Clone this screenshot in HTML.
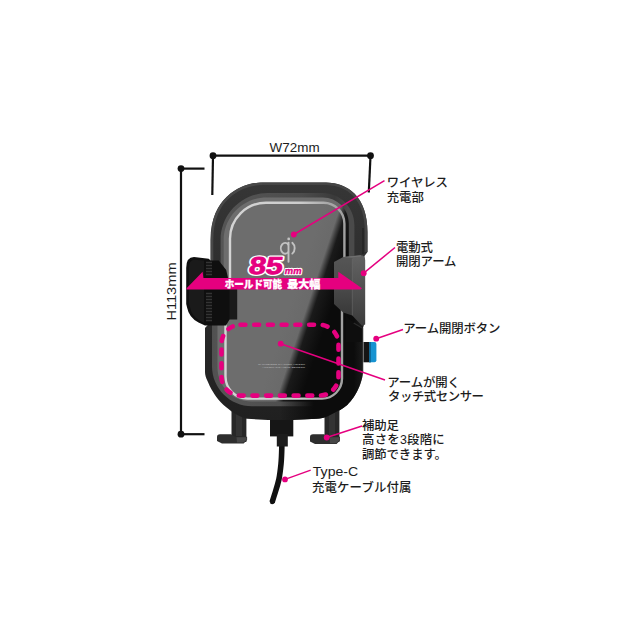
<!DOCTYPE html>
<html lang="ja">
<head>
<meta charset="utf-8">
<title>ワイヤレス充電ホルダー</title>
<style>
html,body{margin:0;padding:0;background:#fff;}
body{width:640px;height:640px;overflow:hidden;position:relative;font-family:"Liberation Sans","Noto Sans CJK JP",sans-serif;}
svg{position:absolute;left:0;top:0;display:block;}
.lbl{font-family:"Liberation Sans","Noto Sans CJK JP",sans-serif;font-size:12.4px;fill:#1c1c1c;font-weight:500;letter-spacing:-0.1px;}
.dim{font-family:"Liberation Sans",sans-serif;font-size:12.6px;fill:#1c1c1c;}
</style>
</head>
<body>
<svg width="640" height="640" viewBox="0 0 640 640">
<defs>
  <!-- glass gradient: perpendicular to the diagonal reflection edge -->
  <linearGradient id="glass" gradientUnits="userSpaceOnUse" x1="297.300" y1="283.700" x2="335.300" y2="296.300">
    <stop offset="0" stop-color="#6d6d6d"/>
    <stop offset="0.41" stop-color="#6a6a6a"/>
    <stop offset="0.5" stop-color="#404040"/>
    <stop offset="0.59" stop-color="#1a1a1a"/>
    <stop offset="1" stop-color="#0b0b0b"/>
  </linearGradient>
  <linearGradient id="bevel" gradientUnits="userSpaceOnUse" x1="205" y1="0" x2="367" y2="0">
    <stop offset="0" stop-color="#4c4c4c"/>
    <stop offset="0.1" stop-color="#555"/>
    <stop offset="0.6" stop-color="#4c4c4c"/>
    <stop offset="0.8" stop-color="#3a3a3a"/>
    <stop offset="0.88" stop-color="#4a4a4a"/>
    <stop offset="1" stop-color="#4a4a4a"/>
  </linearGradient>
  <linearGradient id="silver" gradientUnits="userSpaceOnUse" x1="230" y1="0" x2="345" y2="0">
    <stop offset="0" stop-color="#d4d4d4"/>
    <stop offset="0.6" stop-color="#cdcdcd"/>
    <stop offset="0.85" stop-color="#a8a8a8"/>
    <stop offset="1" stop-color="#a0a0a0"/>
  </linearGradient>
  <linearGradient id="shade" gradientUnits="userSpaceOnUse" x1="280" y1="0" x2="364" y2="0">
    <stop offset="0" stop-color="#0c0c0c" stop-opacity="0"/>
    <stop offset="0.4" stop-color="#0c0c0c" stop-opacity="1"/>
    <stop offset="0.88" stop-color="#0c0c0c" stop-opacity="1"/>
    <stop offset="1" stop-color="#0c0c0c" stop-opacity="0.35"/>
  </linearGradient>
  <clipPath id="bodyclip"><path d="M262 182.400 H326 C347 182.400 367.500 196 367.500 232 V252 L364.500 256 V322 L363 328 V372 C362.500 380 359 388 356.500 392.500 C353 399 349 403 347.200 405 C343 408.500 340 410 337.800 411 C330 415 326 418.300 316 418.800 L293 420 H268 L247 418.800 C243 418 236 415 231 411 C227 408 224 405.500 221 402.500 C217 398.500 215 395 212.500 391 C209.500 386 208 382 207.500 381 C206 378 205 375 205 372 V328 L210.600 322 V240 C210.600 192 248 182.400 262 182.400 Z"/></clipPath>
  <linearGradient id="bodyg" gradientUnits="userSpaceOnUse" x1="0" y1="182" x2="0" y2="420">
    <stop offset="0" stop-color="#363636"/>
    <stop offset="0.45" stop-color="#2c2c2c"/>
    <stop offset="1" stop-color="#202020"/>
  </linearGradient>
  <linearGradient id="rarmf" gradientUnits="userSpaceOnUse" x1="0" y1="258" x2="0" y2="318">
    <stop offset="0" stop-color="#555"/>
    <stop offset="0.5" stop-color="#4a4a4a"/>
    <stop offset="1" stop-color="#363636"/>
  </linearGradient>
  <linearGradient id="rarms" gradientUnits="userSpaceOnUse" x1="0" y1="255" x2="0" y2="325">
    <stop offset="0" stop-color="#626262"/>
    <stop offset="0.5" stop-color="#505050"/>
    <stop offset="1" stop-color="#3c3c3c"/>
  </linearGradient>
</defs>
<rect width="640" height="640" fill="#fff"/>

<!-- dimension lines -->
<g stroke="#111" stroke-width="2.200" fill="none">
  <path d="M213 155.700 H370.500"/>
  <path d="M213 156 L212.300 195"/>
  <path d="M370.500 156 L368.800 192.500"/>
  <path d="M181 168.600 H204.500"/>
  <path d="M181 168.600 V434.200"/>
  <path d="M181 434.200 H204.500"/>
</g>
<g fill="#111">
  <circle cx="213" cy="155.700" r="3.400"/>
  <circle cx="370.500" cy="155.700" r="3.400"/>
  <circle cx="181" cy="168.600" r="3.400"/>
  <circle cx="181" cy="434.200" r="3.400"/>
</g>
<text class="dim" x="269.600" y="151.900" textLength="50" lengthAdjust="spacingAndGlyphs">W72mm</text>
<text class="dim" transform="translate(175.800 320.600) rotate(-90)" textLength="58.200" lengthAdjust="spacingAndGlyphs">H113mm</text>

<!-- device -->
<g id="device">
  <!-- cable -->
  <path d="M282 440 L281.800 448 C281.600 456 281.400 460 281 464 C280.400 470 279.800 475 278.900 479.400 C277.800 484.500 276.500 488.500 275.200 492.500 C274.200 495.500 273 499.500 272.100 502.300" stroke="#111" stroke-width="5.600" fill="none"/>
  <circle cx="272.200" cy="502" r="2.300" fill="#111"/>
  <!-- connector -->
  <rect x="270" y="416" width="23.300" height="20.400" fill="#161616"/>
  <rect x="276.800" y="434" width="11" height="12.500" fill="#1c1c1c"/>
  <!-- feet -->
  <path d="M231.500 408 H246.400 V442 H231.500 Z" fill="#272727"/>
  <path d="M236 412 H242 V436 H236 Z" fill="#333"/>
  <path d="M217 437 Q217 434.300 220 434.300 H231 L235 436.800 H247.100 V440 L243.600 443.400 H222 L217 441 Z" fill="#2e2e2e"/>
  <path d="M236.500 437.300 H246.700 V439.800 L243.300 442.600 H237 Z" fill="#474747"/>
  <path d="M324.500 405 H339.400 V442 H324.500 Z" fill="#272727"/>
  <path d="M329 410 H335 V436 H329 Z" fill="#333"/>
  <path d="M310 437 Q310 434.300 313 434.300 H324 L328 436.800 H340 V440.400 L336.500 444 H315 L310 441.400 Z" fill="#2e2e2e"/>
  <path d="M329.500 437.300 H339.600 V440 L336.200 443.200 H330 Z" fill="#474747"/>
  <!-- body -->
  <path d="M262 182.400 H326 C347 182.400 367.500 196 367.500 232 V252 L364.500 256 V322 L363 328 V372 C362.500 380 359 388 356.500 392.500 C353 399 349 403 347.200 405 C343 408.500 340 410 337.800 411 C330 415 326 418.300 316 418.800 L293 420 H268 L247 418.800 C243 418 236 415 231 411 C227 408 224 405.500 221 402.500 C217 398.500 215 395 212.500 391 C209.500 386 208 382 207.500 381 C206 378 205 375 205 372 V328 L210.600 322 V240 C210.600 192 248 182.400 262 182.400 Z" fill="url(#bodyg)"/>
  <!-- highlight on frame edge -->
  <path d="M262 183.800 H326 C346.500 183.800 366.100 197 366.100 232 V252" fill="none" stroke="#454545" stroke-width="2.600"/>
  <path d="M212 300 V240 C212 193 248 183.800 262 183.800" fill="none" stroke="#484848" stroke-width="2.600"/>
  <path d="M363 228 V254" stroke="#1c1c1c" stroke-width="1"/>
  <!-- bevel ring -->
  <path d="M267.6 193.0 H322.4 C340.1 193.0 354.4 207.3 354.4 225.0 V298.0 L347.0 308.0 V376.3 C347.0 392.9 333.6 406.3 317.0 406.3 H252.0 C229.9 406.3 212.0 388.4 212.0 366.3 V308.0 L220.6 298.0 V240.0 C220.6 214.0 241.6 193.0 267.6 193.0 Z" fill="url(#bevel)"/>
  <rect x="280" y="312" width="90" height="110" fill="url(#shade)" clip-path="url(#bodyclip)"/>
  <!-- glass -->
  <path d="M266.7 197.5 H322.8 C337.2 197.5 348.8 209.1 348.8 223.5 V298.0 L346.0 308.0 V373.5 C346.0 389.0 333.5 401.5 318.0 401.5 H251.5 C232.7 401.5 217.5 386.3 217.5 367.5 V308.0 L223.7 298.0 V240.5 C223.7 216.8 243.0 197.5 266.7 197.5 Z" fill="url(#glass)"/>
  <!-- silver line -->
  <path d="M266.0 202.8 H323.4 C335.0 202.8 344.4 212.2 344.4 223.8 V298.0 L342.0 308.0 V378.6 C342.0 389.6 333.0 398.6 322.0 398.6 H247.5 C235.3 398.6 225.5 388.8 225.5 376.6 V308.0 L230.0 298.0 V238.8 C230.0 218.9 246.1 202.8 266.0 202.8 Z" fill="none" stroke="url(#silver)" stroke-width="2.400"/>
  <!-- qi logo -->
  <g fill="none" stroke="#c2c2c2" stroke-width="1.900" stroke-linecap="round">
    <path d="M288.300 244.600 A4.300 5.400 0 1 0 288.300 252"/>
    <path d="M288.500 242.600 V261.800"/>
    <path d="M292.300 242.800 A6.500 7 0 0 1 292.300 253.600"/>
  </g>
  <circle cx="288.700" cy="238.900" r="1.400" fill="#c2c2c2"/>
  <!-- tiny print on glass -->
  <text x="258" y="365.200" font-family="'Liberation Sans',sans-serif" font-size="2.400" fill="#bdbdbd" textLength="47" lengthAdjust="spacingAndGlyphs">QI WIRELESS CHARGER HOLDER</text>
  <text x="262" y="368.300" font-family="'Liberation Sans',sans-serif" font-size="2.400" fill="#bdbdbd" textLength="43" lengthAdjust="spacingAndGlyphs">AUTOMATIC HOLD SENSOR</text>
  <!-- left arm -->
  <path d="M228 286 H237.200 V319.500 H228 Z" fill="#1a1a1a"/>
  <path d="M194 257 L208.700 258.700 L210.600 260.600 H218.700 L226.200 270 L228 278 V289 H229.500 V319.500 L226 325.600 H205 L198.500 322.500 Q189 317.500 187.200 308 L186.200 304 V268 Q186.200 257 194 257 Z" fill="#0f0f0f"/>
  <path d="M189 268 Q189 259.800 194.500 259.800 L204 260.500 V323 L199.500 320.500 Q192 316.500 190.200 308 L189 304 Z" fill="#1a1a1a"/>
  <g stroke="#343434" stroke-width="1.300">
    <path d="M206 262.500 h6 M206 265.500 h6 M206 268.500 h6 M206 271.500 h6 M206 274.500 h6 M206 293.500 h6 M206 296.500 h6 M206 299.500 h6 M206 302.500 h6 M206 305.500 h6 M206 308.500 h6 M206 311.500 h6 M206 314.500 h6 M206 317.500 h6 M206 320.500 h6"/>
  </g>
  <!-- right arm -->
  <path d="M343.200 257 L360.500 255.300 Q365.200 255.300 365.200 260.500 V324.500 L362 325.800 L352 315.300 Z" fill="url(#rarms)"/>
  <path d="M344 257.500 L361 255.900" stroke="#707070" stroke-width="1.200" fill="none"/>
  <path d="M334 262 L343.200 257 L352.300 258 V315.500 L343.200 312.500 L334 304 Z" fill="url(#rarmf)"/>
  <path d="M352.300 259 V315" stroke="#6a6a6a" stroke-width="0.900" opacity="0.7"/>
  <!-- lower right cradle edge -->
  <path d="M346 316 L353.700 322.500 L363 328 V342 H346 Z" fill="#0e0e0e"/>
  <path d="M353.700 323 L362.600 328.300 V372" stroke="#2c2c2c" stroke-width="1.300" fill="none"/>
  <!-- button -->
  <rect x="363.500" y="342" width="7" height="20.300" fill="#151515"/>
  <path d="M369.400 342 H374.400 Q376.400 342 376.400 344 V360.300 Q376.400 362.300 374.400 362.300 H369.400 Z" fill="#1793d1"/>
  <rect x="369.400" y="342" width="1.600" height="20.300" fill="#0e6a9c"/>
</g>

<!-- pink arrow (half-barbed) -->
<path d="M186.600 288.200 L202.600 271.800 L203.400 278 H338.300 V271.800 L362 288.300 L360.500 289.600 H186.600 Z" fill="#e5007f"/>
<!-- dashed sensor rect -->
<rect x="221.500" y="324.800" width="117" height="70.800" rx="19" ry="19" fill="none" stroke="#e5007f" stroke-width="4.600" stroke-dasharray="4.900 8.820" stroke-linecap="round"/>

<!-- leaders -->
<g stroke="#e5007f" stroke-width="1.500" fill="none">
  <path d="M293.800 234.500 L384.500 180.700"/>
  <path d="M363.700 273.200 L395 247.500"/>
  <path d="M376.200 338.700 L403 329.500"/>
  <path d="M280.700 343.700 L385 380"/>
  <path d="M326.700 437.500 L362 426"/>
  <path d="M285 479.400 L310.700 470.100"/>
</g>
<g fill="#e5007f">
  <circle cx="293.800" cy="234.500" r="2.900"/>
  <circle cx="363.700" cy="273.200" r="2.900"/>
  <circle cx="376.200" cy="338.700" r="2.900"/>
  <circle cx="280.700" cy="343.700" r="2.900"/>
  <circle cx="326.700" cy="437.500" r="2.900"/>
  <circle cx="285" cy="479.400" r="2.900"/>
</g>

<!-- 85mm -->
<g font-family="'Liberation Sans',sans-serif" font-weight="bold" stroke-linejoin="round">
  <text transform="translate(247.900 273.700) skewX(-9) scale(1.250 1)" font-size="24.400" fill="#fff" stroke="#fff" stroke-width="3.600">85</text>
  <text transform="translate(247.900 273.700) skewX(-9) scale(1.250 1)" font-size="24.400" fill="#e5007f" stroke="#e5007f" stroke-width="0.800">85</text>
  <text transform="translate(284.300 274.100) skewX(-10) scale(1.020 1)" font-size="9.300" fill="#fff" stroke="#fff" stroke-width="2.400">mm</text>
  <text transform="translate(284.300 274.100) skewX(-10) scale(1.020 1)" font-size="9.300" fill="#e5007f" stroke="#e5007f" stroke-width="0.300">mm</text>
</g>
<g font-family="'Liberation Sans','Noto Sans CJK JP',sans-serif" font-weight="900" font-size="10.600" fill="#fff" stroke="#fff" stroke-width="0.300">
  <text x="224.700" y="287.600" textLength="57.400" lengthAdjust="spacingAndGlyphs">ホールド可能</text>
  <text x="287.200" y="287.600" textLength="33.200" lengthAdjust="spacingAndGlyphs">最大幅</text>
</g>

<!-- labels -->
<g class="lbl">
  <text x="386.800" y="187.200">ワイヤレス</text>
  <text x="386.800" y="202">充電部</text>
  <text x="396" y="251.600">電動式</text>
  <text x="396" y="266">開閉アーム</text>
  <text x="403.200" y="333.200">アーム開閉ボタン</text>
  <text x="387.200" y="387">アームが開く</text>
  <text x="388" y="401.300" style="letter-spacing:-0.45px">タッチ式センサー</text>
  <text x="362" y="429.600">補助足</text>
  <text x="362" y="444.300" style="letter-spacing:0.25px">高さを3段階に</text>
  <text x="362" y="459.200">調節できます。</text>
  <text x="312.800" y="475.700" style="font-size:13.2px;letter-spacing:0" textLength="45.400" lengthAdjust="spacingAndGlyphs">Type-C</text>
  <text x="312" y="491.600" style="letter-spacing:0.150px">充電ケーブル付属</text>
</g>
</svg>
</body>
</html>
